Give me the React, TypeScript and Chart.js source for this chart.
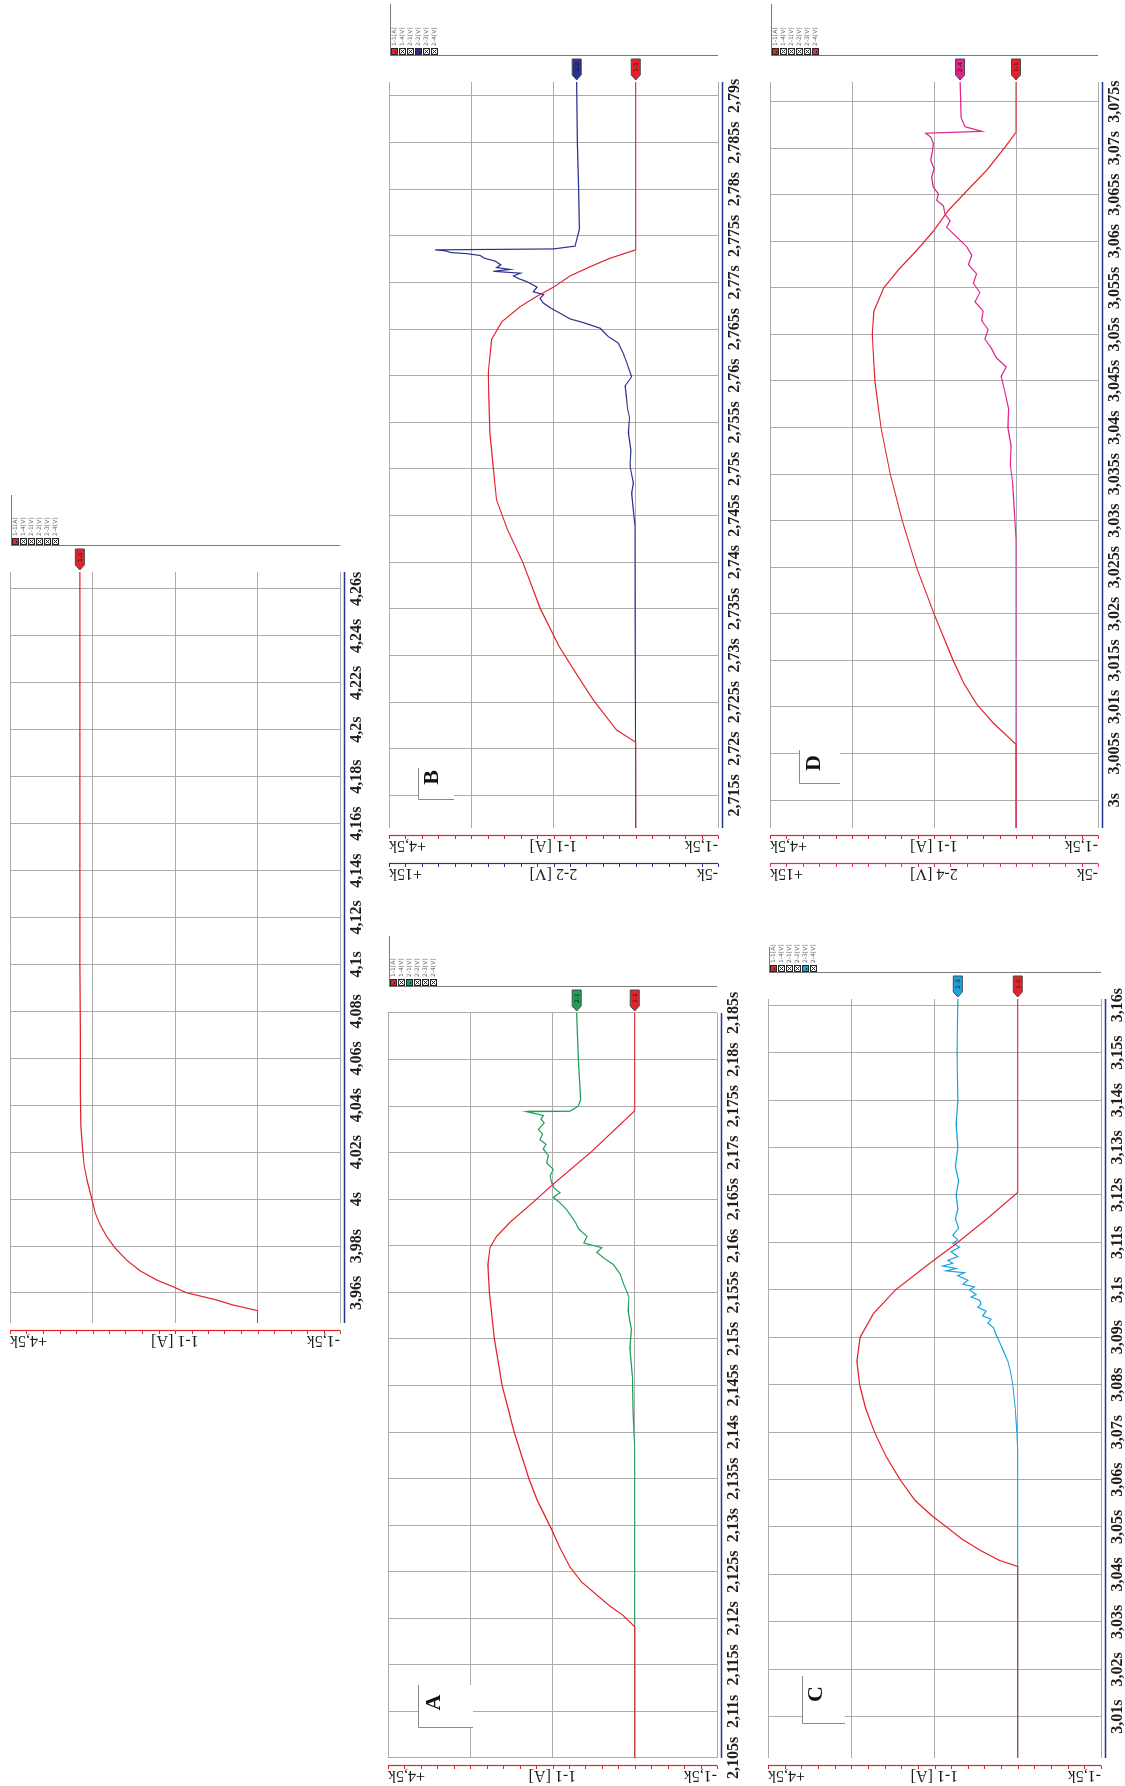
import React, { useEffect, useRef } from 'react';
import { Chart, registerables } from 'chart.js';

Chart.register(...registerables);

// ---------- recorded traces (time in s, current in kA, voltage in kV) ----------

// Run-up record (channel 1-1 only)
const P1_TIME = [3.9472, 3.9525, 3.9549, 3.957, 3.9601, 3.9627, 3.9655, 3.9695, 3.974, 3.9792, 3.984, 3.989, 3.994, 4.0, 4.007, 4.014, 4.021, 4.031, 4.045, 4.07, 4.1, 4.14, 4.18, 4.22, 4.2672];
const P1_CURRENT = [0, 0, 0.45, 0.74, 1.29, 1.54, 1.83, 2.14, 2.38, 2.59, 2.74, 2.86, 2.95, 3.01, 3.09, 3.15, 3.18, 3.21, 3.22, 3.22, 3.23, 3.23, 3.23, 3.23, 3.23];

// Record A: current 1-1 and voltage 2-1
const A_TIME_I = [2.105, 2.1191, 2.1203, 2.1213, 2.1225, 2.1239, 2.1255, 2.1275, 2.1296, 2.1327, 2.135, 2.14, 2.145, 2.15, 2.155, 2.158, 2.1598, 2.161, 2.1625, 2.1647, 2.1665, 2.1701, 2.1745, 2.185];
const A_CURRENT = [0, 0, 0.21, 0.45, 0.69, 0.97, 1.18, 1.36, 1.52, 1.78, 1.93, 2.2, 2.42, 2.56, 2.65, 2.68, 2.64, 2.52, 2.28, 1.85, 1.51, 0.79, 0, 0];
const A_TIME_V = [2.105, 2.138, 2.142, 2.146, 2.149, 2.151, 2.153, 2.1545, 2.156, 2.157, 2.158, 2.1587, 2.1593, 2.1598, 2.1603, 2.161, 2.1618, 2.1625, 2.1633, 2.164, 2.1647, 2.1652, 2.1657, 2.1662, 2.1668, 2.1675, 2.1682, 2.1689, 2.1697, 2.1704, 2.1709, 2.1714, 2.172, 2.1725, 2.1732, 2.1736, 2.174, 2.1744, 2.17445, 2.175, 2.1757, 2.18, 2.185];
const A_VOLT = [0, 0, 0.1, 0.15, 0.3, 0.2, 0.4, 0.35, 0.7, 0.9, 1.3, 1.9, 2.3, 2.0, 3.1, 2.9, 3.4, 3.6, 3.9, 4.2, 4.6, 4.95, 4.54, 4.9, 5.05, 5.15, 4.95, 5.35, 5.25, 5.56, 5.4, 5.76, 5.6, 5.86, 5.5, 5.7, 5.55, 6.57, 3.94, 3.43, 3.29, 3.43, 3.53];

// Record B: current 1-1 and voltage 2-2
const B_TIME_I = [2.7115, 2.7207, 2.722, 2.7252, 2.728, 2.731, 2.735, 2.74, 2.7435, 2.7467, 2.7503, 2.7539, 2.7575, 2.7603, 2.7639, 2.7658, 2.7674, 2.7685, 2.7695, 2.7707, 2.7717, 2.7726, 2.7735, 2.7915];
const B_CURRENT = [0, 0, 0.35, 0.77, 1.08, 1.4, 1.74, 2.06, 2.34, 2.54, 2.6, 2.66, 2.68, 2.69, 2.63, 2.44, 2.11, 1.81, 1.5, 1.2, 0.83, 0.47, 0, 0];
const B_TIME_V = [2.7115, 2.744, 2.7474, 2.7485, 2.7503, 2.752, 2.7539, 2.7555, 2.7565, 2.7575, 2.7589, 2.7599, 2.7614, 2.7624, 2.7635, 2.7642, 2.7651, 2.7657, 2.7661, 2.7666, 2.7673, 2.7678, 2.7683, 2.7687, 2.769, 2.7695, 2.7701, 2.7704, 2.7707, 2.771, 2.7712, 2.7714, 2.7716, 2.7719, 2.7723, 2.7726, 2.7729, 2.7731, 2.7732, 2.7734, 2.7735, 2.7736, 2.7739, 2.7757, 2.78, 2.785, 2.7915];
const B_VOLT = [0, 0.05, 0.25, 0.15, 0.35, 0.3, 0.45, 0.38, 0.5, 0.55, 0.65, 0.25, 0.55, 0.76, 1.06, 1.67, 2.17, 3.19, 4.0, 4.5, 5.21, 5.62, 5.82, 5.6, 6.23, 6.0, 6.63, 7.1, 7.44, 7.0, 8.66, 7.64, 8.45, 8.2, 8.56, 9.2, 9.47, 10.3, 11.19, 11.6, 12.2, 5.01, 3.69, 3.43, 3.47, 3.55, 3.59];

// Record C: current 1-1 and voltage 2-3
const C_TIME_I = [3.0013, 3.0417, 3.0429, 3.0451, 3.0475, 3.05, 3.0524, 3.0556, 3.06, 3.065, 3.07, 3.075, 3.08, 3.085, 3.09, 3.095, 3.1, 3.105, 3.11, 3.115, 3.1205, 3.1613];
const C_CURRENT = [0, 0, 0.32, 0.68, 1.01, 1.28, 1.55, 1.85, 2.12, 2.38, 2.58, 2.74, 2.85, 2.9, 2.84, 2.6, 2.2, 1.65, 1.08, 0.55, 0, 0];
const C_TIME_V = [3.0013, 3.066, 3.07, 3.075, 3.08, 3.083, 3.085, 3.087, 3.089, 3.0905, 3.092, 3.093, 3.0938, 3.0945, 3.0955, 3.0963, 3.097, 3.0978, 3.0985, 3.099, 3.1, 3.1006, 3.1012, 3.102, 3.103, 3.1036, 3.104, 3.1045, 3.105, 3.1056, 3.1062, 3.107, 3.108, 3.109, 3.1098, 3.1105, 3.1115, 3.113, 3.115, 3.117, 3.12, 3.123, 3.126, 3.13, 3.135, 3.14, 3.15, 3.1613];
const C_VOLT = [0, 0, 0.05, 0.15, 0.3, 0.45, 0.6, 0.85, 1.1, 1.3, 1.45, 1.8, 1.6, 2.1, 1.9, 2.4, 2.2, 2.3, 2.8, 2.5, 2.9, 2.6, 3.3, 3.0, 3.6, 3.2, 4.3, 3.7, 4.5, 3.9, 4.2, 3.6, 4.0, 3.5, 3.9, 3.6, 3.9, 3.55, 3.75, 3.6, 3.7, 3.55, 3.75, 3.6, 3.7, 3.6, 3.65, 3.6];

// Record D: current 1-1 and voltage 2-4
const D_TIME_I = [2.997, 3.006, 3.0083, 3.0103, 3.0125, 3.015, 3.02, 3.025, 3.03, 3.035, 3.04, 3.045, 3.05, 3.0525, 3.055, 3.057, 3.059, 3.0611, 3.0633, 3.0654, 3.0676, 3.0701, 3.0717, 3.0771];
const D_CURRENT = [0, 0, 0.42, 0.72, 0.95, 1.15, 1.5, 1.82, 2.08, 2.3, 2.47, 2.58, 2.63, 2.6, 2.42, 2.14, 1.82, 1.51, 1.24, 0.9, 0.54, 0.2, 0, 0];
const D_TIME_V = [2.997, 3.028, 3.031, 3.034, 3.036, 3.038, 3.04, 3.042, 3.044, 3.0455, 3.0465, 3.0475, 3.0485, 3.0495, 3.0505, 3.0515, 3.0525, 3.0535, 3.0545, 3.0555, 3.0565, 3.0575, 3.0585, 3.0594, 3.0601, 3.0608, 3.0615, 3.0622, 3.0629, 3.0638, 3.0644, 3.0651, 3.0658, 3.0669, 3.0678, 3.0687, 3.0696, 3.0705, 3.0712, 3.0716, 3.0718, 3.0723, 3.0733, 3.0771];
const D_VOLT = [0, 0, 0.1, 0.2, 0.35, 0.3, 0.5, 0.45, 0.7, 0.9, 0.6, 1.2, 1.5, 1.9, 1.7, 2.1, 2.0, 2.5, 2.2, 2.6, 2.4, 2.9, 2.7, 3.0, 3.41, 3.82, 4.23, 4.02, 4.33, 4.43, 4.84, 4.74, 5.04, 5.14, 5.0, 5.2, 5.1, 5.04, 5.2, 5.51, 2.09, 3.11, 3.35, 3.41];

// ---------- axes ----------
const TICKS_P1 = [3.96, 3.98, 4, 4.02, 4.04, 4.06, 4.08, 4.1, 4.12, 4.14, 4.16, 4.18, 4.2, 4.22, 4.24, 4.26];
const TICKS_A = [2.105, 2.11, 2.115, 2.12, 2.125, 2.13, 2.135, 2.14, 2.145, 2.15, 2.155, 2.16, 2.165, 2.17, 2.175, 2.18, 2.185];
const TICKS_B = [2.715, 2.72, 2.725, 2.73, 2.735, 2.74, 2.745, 2.75, 2.755, 2.76, 2.765, 2.77, 2.775, 2.78, 2.785, 2.79];
const TICKS_C = [3.01, 3.02, 3.03, 3.04, 3.05, 3.06, 3.07, 3.08, 3.09, 3.1, 3.11, 3.12, 3.13, 3.14, 3.15, 3.16];
const TICKS_D = [3, 3.005, 3.01, 3.015, 3.02, 3.025, 3.03, 3.035, 3.04, 3.045, 3.05, 3.055, 3.06, 3.065, 3.07, 3.075];

const CURRENT_RANGE = [-1.5, 4.5];
const VOLT_RANGE = [-5, 15];
const CURRENT_GRID = [-1.5, 0, 1.5, 3, 4.5];
const CURRENT_LABELS = ['+4,5k', '1-1 [A]', '-1,5k'];
const LEGEND_LABELS = ['1-1[A]', '1-4[V]', '2-1[V]', '2-2[V]', '2-3[V]', '2-4[V]'];

// ---------- styling ----------
const RED = '#e5222b';
const GREEN = '#1c9f58';
const NAVY = '#2b3190';
const CYAN = '#1ca2de';
const MAGENTA = '#e2238d';
const TIME_AXIS = '#27358c';
const GRID = '#ababab';
const SERIF = '"Liberation Serif", "Times New Roman", serif';

type Trace = { t: number[]; v: number[]; color: string; axis: 'y' | 'y2'; tag: string };
type Letter = { text: string; box: number[]; cx: number; cy: number };
type PanelCfg = {
  canvas: { x: number; y: number; w: number; h: number };
  area: { l: number; t: number; r: number; b: number };
  tMin: number;
  tMax: number;
  ticks: number[];
  traces: Trace[];
  voltAxis?: { color: string; labels: string[] };
  legendColors: (string | null)[];
  legendLen: number;
  letter?: Letter;
};

const PANELS: PanelCfg[] = [
  {
    canvas: { x: 420, y: 0, w: 880, h: 378 },
    area: { l: 463, t: 10, r: 1214, b: 340 },
    tMin: 3.9472, tMax: 4.2672, ticks: TICKS_P1,
    traces: [{ t: P1_TIME, v: P1_CURRENT, color: RED, axis: 'y', tag: '1-1' }],
    legendColors: [RED, null, null, null, null, null],
    legendLen: 51,
  },
  {
    canvas: { x: 0, y: 378, w: 880, h: 378 },
    area: { l: 28, t: 388, r: 773, b: 717 },
    tMin: 2.105, tMax: 2.185, ticks: TICKS_A,
    traces: [
      { t: A_TIME_I, v: A_CURRENT, color: RED, axis: 'y', tag: '1-1' },
      { t: A_TIME_V, v: A_VOLT, color: GREEN, axis: 'y2', tag: '2-1' },
    ],
    legendColors: [RED, null, GREEN, null, null, null],
    legendLen: 51,
    letter: { text: 'A', box: [30, 30, 73, 85], cx: 55.5, cy: 46 },
  },
  {
    canvas: { x: 900, y: 378, w: 886, h: 378 },
    area: { l: 958, t: 389, r: 1704, b: 718 },
    tMin: 2.7115, tMax: 2.7915, ticks: TICKS_B,
    traces: [
      { t: B_TIME_I, v: B_CURRENT, color: RED, axis: 'y', tag: '1-1' },
      { t: B_TIME_V, v: B_VOLT, color: NAVY, axis: 'y2', tag: '2-2' },
    ],
    voltAxis: { color: NAVY, labels: ['+15k', '2-2 [V]', '-5k'] },
    legendColors: [RED, null, null, NAVY, null, null],
    legendLen: 52,
    letter: { text: 'B', box: [28, 29, 60, 65], cx: 50.5, cy: 43 },
  },
  {
    canvas: { x: 0, y: 756, w: 880, h: 369 },
    area: { l: 28, t: 768, r: 787, b: 1101 },
    tMin: 3.0013, tMax: 3.1613, ticks: TICKS_C,
    traces: [
      { t: C_TIME_I, v: C_CURRENT, color: RED, axis: 'y', tag: '1-1' },
      { t: C_TIME_V, v: C_VOLT, color: CYAN, axis: 'y2', tag: '2-3' },
    ],
    legendColors: [RED, null, null, null, CYAN, null],
    legendLen: 26,
    letter: { text: 'C', box: [34, 34, 82, 77], cx: 64, cy: 48.5 },
  },
  {
    canvas: { x: 900, y: 756, w: 886, h: 369 },
    area: { l: 958, t: 770, r: 1704, b: 1098 },
    tMin: 2.997, tMax: 3.0771, ticks: TICKS_D,
    traces: [
      { t: D_TIME_I, v: D_CURRENT, color: RED, axis: 'y', tag: '1-1' },
      { t: D_TIME_V, v: D_VOLT, color: MAGENTA, axis: 'y2', tag: '2-4' },
    ],
    voltAxis: { color: MAGENTA, labels: ['+15k', '2-4 [V]', '-5k'] },
    legendColors: [RED, null, null, null, null, MAGENTA],
    legendLen: 52,
    letter: { text: 'D', box: [44, 29, 78, 70], cx: 65, cy: 44.5 },
  },
];

const fmtTime = (v: number) =>
  v.toFixed(3).replace(/0+$/, '').replace(/\.$/, '').replace('.', ',') + 's';

const toPoints = (t: number[], v: number[]) => t.map((x, i) => ({ x, y: v[i] }));

function drawValueAxis(ctx: CanvasRenderingContext2D, x: number, scale: any, color: string, labels: string[]) {
  const lo = scale.min;
  const hi = scale.max;
  const yTop = scale.getPixelForValue(hi);
  const yBot = scale.getPixelForValue(lo);
  ctx.strokeStyle = color;
  ctx.lineWidth = 1.2;
  ctx.beginPath();
  ctx.moveTo(x + 0.5, yTop);
  ctx.lineTo(x + 0.5, yBot);
  ctx.stroke();
  // 20 minor divisions along the axis
  ctx.lineWidth = 1;
  ctx.beginPath();
  for (let i = 0; i <= 20; i++) {
    const y = Math.round(scale.getPixelForValue(lo + ((hi - lo) * i) / 20)) + 0.5;
    ctx.moveTo(x + 0.5, y);
    ctx.lineTo(x - 3, y);
  }
  ctx.stroke();
  ctx.fillStyle = '#1d1d1d';
  ctx.font = '16px ' + SERIF;
  ctx.textBaseline = 'alphabetic';
  const anchors: [number, CanvasTextAlign][] = [
    [yTop, 'right'],
    [scale.getPixelForValue((hi + lo) / 2), 'center'],
    [yBot, 'left'],
  ];
  anchors.forEach(([y, align], i) => {
    ctx.save();
    ctx.translate(x - 5, y);
    ctx.rotate(-Math.PI / 2);
    ctx.textAlign = align;
    ctx.fillText(labels[i], 0, 0);
    ctx.restore();
  });
}

function makeDecor(cfg: PanelCfg) {
  return {
    id: 'scopeDecor',
    beforeDatasetsDraw(chart: any) {
      const L = cfg.letter;
      if (!L) return;
      const { ctx, chartArea: ca } = chart;
      const x0 = Math.round(ca.left + L.box[0]);
      const y0 = Math.round(ca.top + L.box[1]);
      const x1 = Math.round(ca.left + L.box[2]);
      const y1 = Math.round(ca.top + L.box[3]);
      ctx.save();
      ctx.fillStyle = '#ffffff';
      ctx.fillRect(x0, y0, x1 - x0, y1 - y0);
      ctx.strokeStyle = '#8a8a8a';
      ctx.lineWidth = 1;
      ctx.beginPath();
      ctx.moveTo(x1, y0 + 0.5);
      ctx.lineTo(x0 + 0.5, y0 + 0.5);
      ctx.lineTo(x0 + 0.5, y1);
      ctx.stroke();
      ctx.fillStyle = '#111111';
      ctx.font = 'bold 22px ' + SERIF;
      ctx.textAlign = 'center';
      ctx.textBaseline = 'middle';
      ctx.fillText(L.text, ca.left + L.cx, ca.top + L.cy);
      ctx.restore();
    },
    afterDraw(chart: any) {
      const { ctx, chartArea: ca, scales } = chart;
      const xs = scales.x;
      ctx.save();

      // time axis
      const ty = Math.round(ca.bottom + 4) + 0.5;
      ctx.strokeStyle = TIME_AXIS;
      ctx.lineWidth = 1.5;
      ctx.beginPath();
      ctx.moveTo(ca.left, ty);
      ctx.lineTo(ca.right, ty);
      ctx.stroke();
      ctx.fillStyle = '#1d1d1d';
      ctx.font = 'bold 16px ' + SERIF;
      ctx.textAlign = 'center';
      ctx.textBaseline = 'alphabetic';
      cfg.ticks.forEach((t) => {
        ctx.fillText(fmtTime(t), xs.getPixelForValue(t), ca.bottom + 20.5);
      });

      // value axes
      drawValueAxis(ctx, Math.round(ca.left - 8), scales.y, RED, CURRENT_LABELS);
      if (cfg.voltAxis) {
        drawValueAxis(ctx, Math.round(ca.left - 36), scales.y2, cfg.voltAxis.color, cfg.voltAxis.labels);
      }

      // channel legend
      const fx = Math.round(ca.right + 26);
      const fy = Math.round(ca.top + 1);
      ctx.strokeStyle = '#7a7a7a';
      ctx.lineWidth = 1;
      ctx.beginPath();
      ctx.moveTo(fx + 0.5, fy);
      ctx.lineTo(fx + 0.5, ca.bottom);
      ctx.moveTo(fx, fy + 0.5);
      ctx.lineTo(fx + cfg.legendLen, fy + 0.5);
      ctx.stroke();
      ctx.font = '6px "DejaVu Sans", sans-serif';
      ctx.textAlign = 'left';
      ctx.textBaseline = 'middle';
      LEGEND_LABELS.forEach((label, i) => {
        const bx = fx + 1;
        const by = fy + 1 + i * 8;
        const c = cfg.legendColors[i];
        ctx.fillStyle = '#262626';
        ctx.fillRect(bx, by, 7, 7);
        if (c) {
          ctx.fillStyle = c;
          ctx.fillRect(bx + 1, by + 1, 5, 5);
          ctx.fillStyle = '#262626';
          ctx.fillRect(bx + 2, by + 4, 2, 1);
        } else {
          ctx.fillStyle = '#ffffff';
          ctx.fillRect(bx + 1, by + 1, 5, 5);
          ctx.strokeStyle = '#262626';
          ctx.beginPath();
          ctx.moveTo(bx + 1.5, by + 1.5);
          ctx.lineTo(bx + 5.5, by + 5.5);
          ctx.moveTo(bx + 5.5, by + 1.5);
          ctx.lineTo(bx + 1.5, by + 5.5);
          ctx.stroke();
        }
        ctx.fillStyle = '#6a6a6a';
        ctx.fillText(label, bx + 9, by + 3.5);
      });

      // level markers at the end of each trace
      cfg.traces.forEach((tr) => {
        const sc = scales[tr.axis];
        const y = sc.getPixelForValue(tr.v[tr.v.length - 1]);
        const x0 = ca.right + 2;
        ctx.beginPath();
        ctx.moveTo(x0, y);
        ctx.lineTo(x0 + 5, y - 4.5);
        ctx.lineTo(x0 + 21, y - 4.5);
        ctx.lineTo(x0 + 21, y + 4.5);
        ctx.lineTo(x0 + 5, y + 4.5);
        ctx.closePath();
        ctx.fillStyle = tr.color;
        ctx.fill();
        ctx.strokeStyle = '#4a4a4a';
        ctx.lineWidth = 1;
        ctx.stroke();
        ctx.fillStyle = '#1a1a1a';
        ctx.font = '6px "DejaVu Sans", sans-serif';
        ctx.textAlign = 'center';
        ctx.textBaseline = 'middle';
        ctx.fillText(tr.tag, x0 + 13, y + 0.5);
      });

      ctx.restore();
    },
  };
}

function ScopePanel({ cfg }: { cfg: PanelCfg }) {
  const ref = useRef<HTMLCanvasElement | null>(null);

  useEffect(() => {
    if (!ref.current) return;
    const { canvas, area } = cfg;
    const chart = new Chart(ref.current, {
      type: 'line',
      data: {
        datasets: cfg.traces.map((tr) => ({
          data: toPoints(tr.t, tr.v),
          borderColor: tr.color,
          borderWidth: 1.2,
          pointRadius: 0,
          tension: 0,
          fill: false,
          yAxisID: tr.axis,
        })),
      },
      options: {
        animation: false,
        responsive: false,
        devicePixelRatio: 1,
        events: [],
        layout: {
          autoPadding: false,
          padding: {
            left: area.l - canvas.x,
            top: area.t - canvas.y,
            right: canvas.x + canvas.w - area.r,
            bottom: canvas.y + canvas.h - area.b,
          },
        },
        plugins: { legend: { display: false }, tooltip: { enabled: false } },
        scales: {
          x: {
            type: 'linear',
            min: cfg.tMin,
            max: cfg.tMax,
            afterBuildTicks: (s: any) => {
              s.ticks = cfg.ticks.map((value) => ({ value }));
            },
            afterFit: (s: any) => {
              s.height = 0;
            },
            ticks: { display: false },
            grid: { color: GRID, lineWidth: 1, drawTicks: false },
            border: { display: false },
          },
          y: {
            type: 'linear',
            position: 'left',
            min: CURRENT_RANGE[0],
            max: CURRENT_RANGE[1],
            afterBuildTicks: (s: any) => {
              s.ticks = CURRENT_GRID.map((value) => ({ value }));
            },
            afterFit: (s: any) => {
              s.width = 0;
            },
            ticks: { display: false },
            grid: { color: GRID, lineWidth: 1, drawTicks: false },
            border: { display: false },
          },
          y2: {
            type: 'linear',
            display: false,
            min: VOLT_RANGE[0],
            max: VOLT_RANGE[1],
          },
        },
      } as any,
      plugins: [makeDecor(cfg) as any],
    });
    return () => chart.destroy();
  }, [cfg]);

  const { x, y, w, h } = cfg.canvas;
  return (
    <canvas
      ref={ref}
      width={w}
      height={h}
      style={{ position: 'absolute', left: x, top: y, width: w, height: h }}
    />
  );
}

export default function App() {
  return (
    <div
      style={{
        position: 'absolute',
        left: 0,
        top: 0,
        width: 1125,
        height: 1786,
        overflow: 'hidden',
        background: '#ffffff',
      }}
    >
      <div
        style={{
          position: 'absolute',
          left: 0,
          top: 0,
          width: 1786,
          height: 1125,
          transformOrigin: '0 0',
          transform: 'translateY(1786px) rotate(-90deg)',
        }}
      >
        {PANELS.map((p, i) => (
          <ScopePanel key={i} cfg={p} />
        ))}
      </div>
    </div>
  );
}
